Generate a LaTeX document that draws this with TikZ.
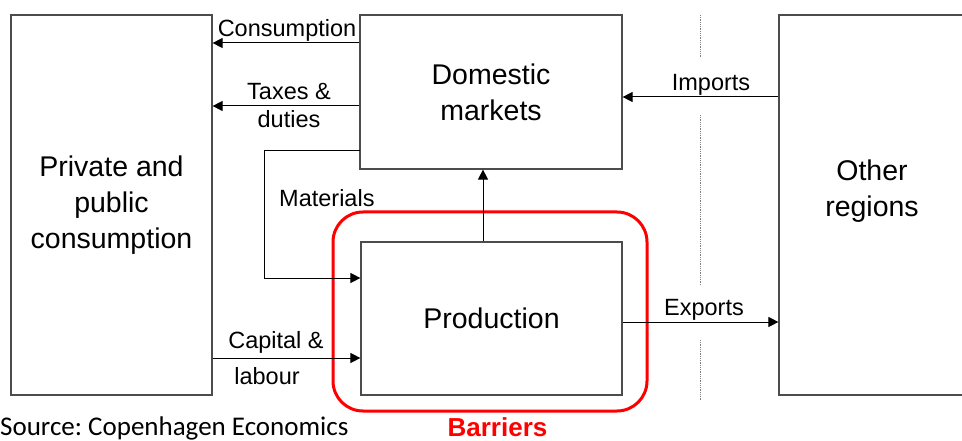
\documentclass[tikz,border=0pt]{standalone}
\usepackage{fontspec}
\setmainfont{Liberation Sans}
\newfontfamily\srcfont{Carlito}
\usetikzlibrary{arrows.meta}
\begin{document}
\frenchspacing
\begin{tikzpicture}[x=1pt,y=-1pt,
  box/.style={draw=black!70, line width=1.2pt, inner sep=0pt, align=center, font=\fontsize{28.5}{36}\selectfont},
  lab/.style={inner sep=0pt, anchor=base, font=\fontsize{23.5}{28}\selectfont},
  arr/.style={draw=black, line width=1pt, -{Triangle[length=10pt,width=10pt]}},
  sep/.style={draw=black!50, densely dotted, line width=0.8pt}]
\useasboundingbox (0,0) rectangle (962,441);
% boxes
\node[box, minimum width=201pt, minimum height=380pt] (priv) at (111.5,205) {Private and\\public\\consumption};
\node[box, minimum width=262pt, minimum height=154pt] (dom) at (491,92) {Domestic\\markets};
\node[box, minimum width=261pt, minimum height=153pt] (prod) at (491.5,318.5) {Production};
\node[box, minimum width=186pt, minimum height=380pt] (oth) at (872,205) {};
\node[inner sep=0pt, align=center, font=\fontsize{28.5}{36}\selectfont] (othtxt) at (872,191) {Other\\regions};
% barriers
\draw[red, line width=3pt, rounded corners=30pt] (333,212) rectangle (647,411);
% separator
\draw[sep] (700,15) -- (700,58) (700,115) -- (700,285) (700,340) -- (700,401);
% coordinates
\coordinate (ycons) at (0,43);
\coordinate (ytax) at (0,106);
\coordinate (matA) at (360,151);
\coordinate (matB) at (264,151);
\coordinate (matC) at (264,278);
\coordinate (ycap) at (0,358);
\coordinate (xup) at (483,0);
\coordinate (yimp) at (0,97);
\coordinate (yexp) at (0,322);
% connectors
\draw[arr] (dom.west |- ycons) -- (priv.east |- ycons);
\draw[arr] (dom.west |- ytax) -- (priv.east |- ytax);
\draw[arr] (matA) -- (matB) -- (matC) -- (prod.west |- matC);
\draw[arr] (priv.east |- ycap) -- (prod.west |- ycap);
\draw[arr] (prod.north -| xup) -- (dom.south -| xup);
\draw[arr] (oth.west |- yimp) -- (dom.east |- yimp);
\draw[arr] (prod.east |- yexp) -- (oth.west |- yexp);
% labels
\node[lab] (lcons) at (287,37) {Consumption};
\node[lab] (ltax1) at (289,100) {Taxes \&};
\node[lab] (ltax2) at (289,128) {duties};
\node[lab, anchor=base west] (lmat) at (279,207) {Materials};
\node[lab] (lcap1) at (276,348) {Capital \&};
\node[lab] (lcap2) at (267,384) {labour};
\node[lab] (limp) at (711,91) {Imports};
\node[lab] (lexp) at (704,315) {Exports};
\node[anchor=base west, inner sep=0pt, font=\srcfont\fontsize{27}{30}\selectfont] (src) at (0,435) {Source: Copenhagen Economics};
\node[anchor=base, inner sep=0pt, text=red, font=\bfseries\fontsize{26}{30}\selectfont] (bar) at (497.5,436) {Barriers};
\end{tikzpicture}
\end{document}
